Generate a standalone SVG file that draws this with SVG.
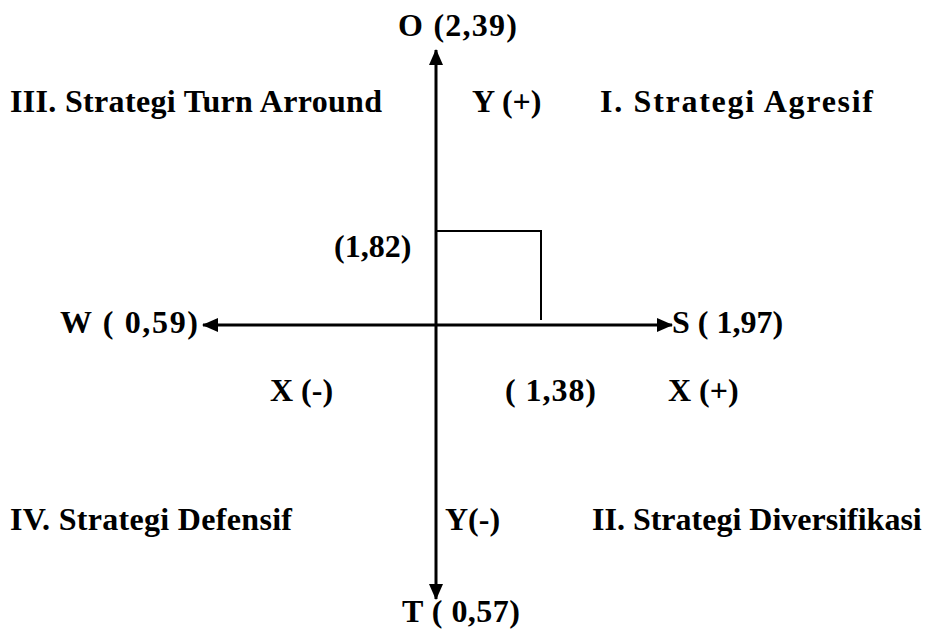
<svg xmlns="http://www.w3.org/2000/svg" width="925" height="633" viewBox="0 0 925 633">
<defs>
<style>
.t{font-family:'Liberation Serif','Times New Roman','DejaVu Serif',serif;font-weight:700;font-size:32px;fill:#000}
.axis{stroke:#000;stroke-width:3;fill:none}
.box{stroke:#000;stroke-width:2;fill:none}
</style>
<marker id="ah" viewBox="0 0 16 14" refX="15" refY="7" markerWidth="16" markerHeight="14" markerUnits="userSpaceOnUse" orient="auto">
<path d="M0,0 L16,7 L0,14 Z" fill="#000"/>
</marker>
</defs>
<rect width="925" height="633" fill="#fff"/>
<g id="connectors">
<line class="axis" x1="436" y1="325" x2="436" y2="50" marker-end="url(#ah)"/>
<line class="axis" x1="436" y1="325" x2="436" y2="599" marker-end="url(#ah)"/>
<line class="axis" x1="436" y1="325" x2="203" y2="325" marker-end="url(#ah)"/>
<line class="axis" x1="436" y1="325" x2="672" y2="325" marker-end="url(#ah)"/>
<polyline class="box" points="437,231 541,231 541,320"/>
</g>
<g class="t" font-family="Liberation Serif, serif" font-weight="bold" font-size="32">
<g id="label-O"><text x="398" y="36" textLength="119" lengthAdjust="spacing">O (2,39)</text></g>
<g id="label-T"><text x="402" y="622" textLength="118" lengthAdjust="spacing">T ( 0,57)</text></g>
<g id="label-W"><text x="60" y="333" textLength="138" lengthAdjust="spacing">W ( 0,59)</text></g>
<g id="label-S"><text x="672" y="333">S ( 1,97)</text></g>
<g id="label-yplus"><text x="472" y="112">Y (+)</text></g>
<g id="label-yminus"><text x="445" y="530">Y(-)</text></g>
<g id="label-xminus"><text x="270" y="401">X (-)</text></g>
<g id="label-xplus"><text x="668" y="401">X (+)</text></g>
<g id="label-138"><text x="505" y="401" textLength="91" lengthAdjust="spacing">( 1,38)</text></g>
<g id="label-182"><text x="334" y="257">(1,82)</text></g>
<g id="q3"><text x="10" y="112" textLength="372" lengthAdjust="spacing">III. Strategi Turn Arround</text></g>
<g id="q1"><text x="600" y="112" textLength="273" lengthAdjust="spacing">I. Strategi Agresif</text></g>
<g id="q4"><text x="10" y="530" textLength="282" lengthAdjust="spacing">IV. Strategi Defensif</text></g>
<g id="q2"><text x="592" y="530">II. Strategi Diversifikasi</text></g>
</g>
</svg>
